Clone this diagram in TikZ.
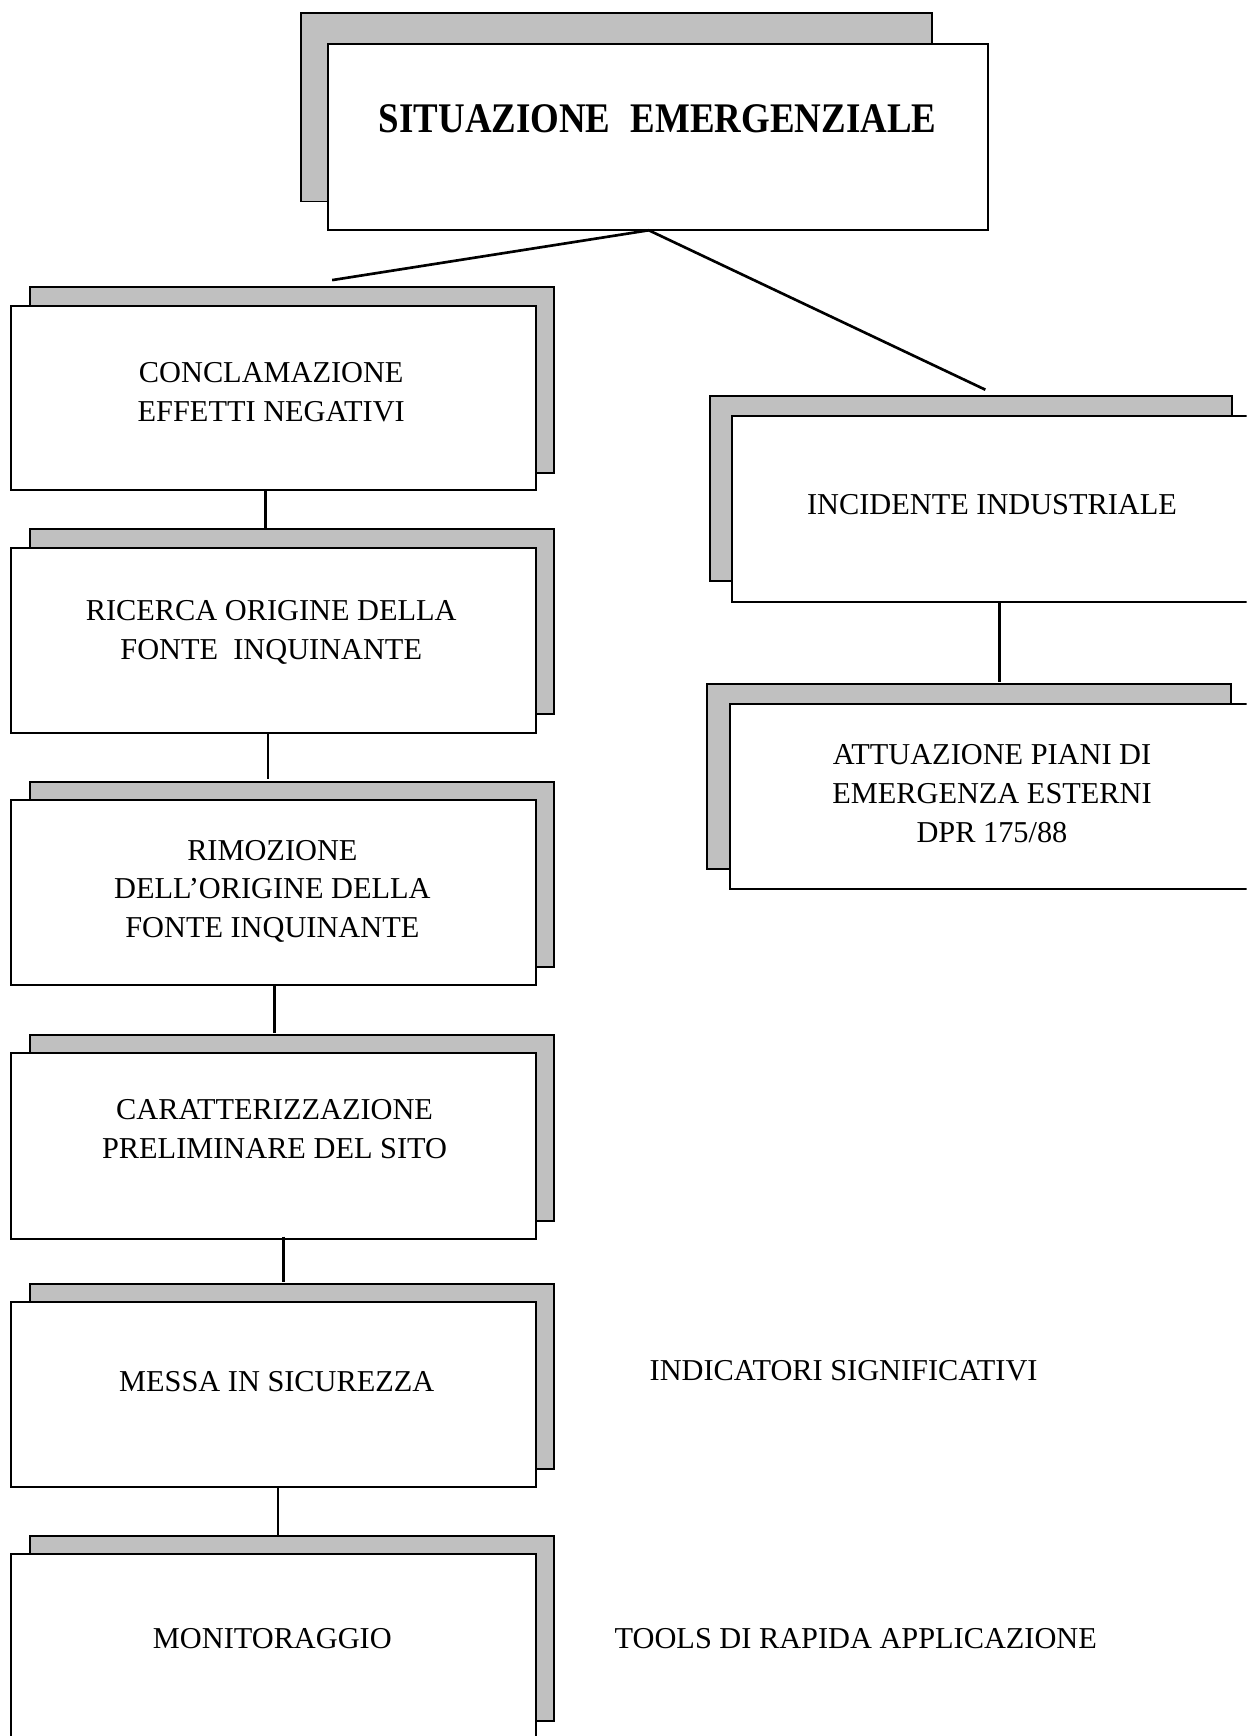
\documentclass[tikz,border=0pt]{standalone}
\usepackage{fontspec}
\setmainfont{Liberation Serif}
\usetikzlibrary{fit}
\definecolor{shadowgray}{HTML}{C0C0C0}
\tikzset{
  backbox/.style={draw, fill=shadowgray, line width=0.9pt, inner sep=0pt, outer sep=0pt},
  frontbox/.style={draw, fill=white, line width=0.9pt, inner sep=0pt, outer sep=0pt},
  txt/.style={font=\fontsize{13.7}{17.5}\selectfont, align=center, inner sep=0pt},
  titletxt/.style={font=\fontsize{17}{20}\selectfont\bfseries, inner sep=0pt},
  conn/.style={line width=1.2pt}
}
\begin{document}
\begin{tikzpicture}[x=0.5pt,y=-0.5pt]
\clip (0,0) rectangle (1126,1568);
\fill[white] (0,0) rectangle (1126,1568);
% top box
\node[backbox, fit={(272,12) (842,182)}] (topback) {};
\node[frontbox, fit={(296,40) (892,208)}] (top) {};
\node[titletxt] (toptxt) at (594,107) {\scalebox{0.98}[1.12]{SITUAZIONE\hspace{0.55em}EMERGENZIALE}};
% left column
\node[backbox, fit={(27,259) (500,427)}] (b1back) {};
\node[frontbox, fit={(10,276) (484,443)}] (b1) {};
\node[txt] (b1txt) at (245,354) {CONCLAMAZIONE\\EFFETTI NEGATIVI};

\node[backbox, fit={(27,478) (500,645)}] (b2back) {};
\node[frontbox, fit={(10,495) (484,662)}] (b2) {};
\node[txt] (b2txt) at (245,571) {RICERCA ORIGINE DELLA\\FONTE\hspace{0.5em}INQUINANTE};

\node[backbox, fit={(27,706) (500,873)}] (b3back) {};
\node[frontbox, fit={(10,723) (484,890)}] (b3) {};
\node[txt] (b3txt) at (246,805) {RIMOZIONE\\DELL’ORIGINE DELLA\\FONTE INQUINANTE};

\node[backbox, fit={(27,935) (500,1103)}] (b4back) {};
\node[frontbox, fit={(10,951) (484,1119)}] (b4) {};
\node[txt] (b4txt) at (248,1020) {CARATTERIZZAZIONE\\PRELIMINARE DEL SITO};

\node[backbox, fit={(27,1160) (500,1327)}] (b5back) {};
\node[frontbox, fit={(10,1176) (484,1343)}] (b5) {};
\node[txt] (b5txt) at (250,1248) {MESSA IN SICUREZZA};

\node[backbox, fit={(27,1387) (500,1554)}] (b6back) {};
\node[frontbox, fit={(10,1404) (484,1590)}] (b6) {};
\node[txt] (b6txt) at (246,1480) {MONITORAGGIO};

% right column
\node[backbox, fit={(641,358) (1113,525)}] (r1back) {};
\node[frontbox, fit={(661,376) (1150,544)}] (r1) {};
\node[txt] (r1txt) at (896,456) {INCIDENTE INDUSTRIALE};

\node[backbox, fit={(639,618) (1112,785)}] (r2back) {};
\node[frontbox, fit={(659,636) (1150,803)}] (r2) {};
\node[txt] (r2txt) at (896,717) {ATTUAZIONE PIANI DI\\EMERGENZA ESTERNI\\DPR 175/88};

% free texts
\node[txt] (ind) at (762,1238) {INDICATORI SIGNIFICATIVI};
\node[txt] (tools) at (773,1480) {TOOLS DI RAPIDA APPLICAZIONE};

% connectors
\coordinate (lend) at (300,253);
\coordinate (rend) at (890,352);
\coordinate (split) at (586,208);
\draw[conn] (split) -- (lend);
\draw[conn] (split) -- (rend);
\coordinate (c1) at (240,0);
\coordinate (c2) at (242,0);
\coordinate (c3) at (248,0);
\coordinate (c4) at (256,0);
\coordinate (c5) at (251,0);
\coordinate (cr) at (903,0);
\draw[conn] (c1 |- b1.south) -- (c1 |- b2back.north);
\draw[conn] (c2 |- b2.south) -- ([yshift=1pt]c2 |- b3back.north);
\draw[conn] (c3 |- b3.south) -- ([yshift=1pt]c3 |- b4back.north);
\draw[conn] ([yshift=1pt]c4 |- b4.south) -- ([yshift=1pt]c4 |- b5back.north);
\draw[conn] (c5 |- b5.south) -- (c5 |- b6back.north);
\draw[conn] (cr |- r1.south) -- ([yshift=1pt]cr |- r2back.north);
\end{tikzpicture}
\end{document}
